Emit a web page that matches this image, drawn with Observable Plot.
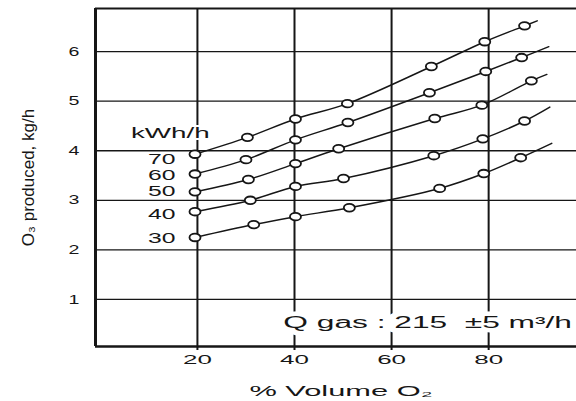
<!DOCTYPE html>
<html>
<head>
<meta charset="utf-8">
<script src="https://cdn.jsdelivr.net/npm/d3@7"></script>
<script src="https://cdn.jsdelivr.net/npm/@observablehq/plot@0.6"></script>
<style>
  html, body { margin: 0; padding: 0; background: #fff; }
</style>
</head>
<body>
<script>
// ---- data ----
const powers = [70, 60, 50, 40, 30];            // kWh/h series
const x70 = [19.5, 30.3, 40.2, 50.9, 68.2, 79.2, 87.4];
const y70 = [3.93, 4.27, 4.64, 4.95, 5.70, 6.20, 6.52];
const x60 = [19.5, 30.0, 40.2, 51.0, 67.8, 79.4, 86.8];
const y60 = [3.53, 3.82, 4.22, 4.57, 5.17, 5.60, 5.88];
const x50 = [19.5, 30.5, 40.2, 49.1, 68.9, 78.6, 88.8];
const y50 = [3.17, 3.42, 3.74, 4.04, 4.65, 4.92, 5.41];
const x40 = [19.5, 30.9, 40.2, 50.1, 68.7, 78.8, 87.4];
const y40 = [2.77, 3.00, 3.28, 3.44, 3.90, 4.24, 4.60];
const x30 = [19.5, 31.6, 40.2, 51.3, 69.9, 79.0, 86.6];
const y30 = [2.25, 2.51, 2.67, 2.85, 3.24, 3.54, 3.86];
// where each drawn curve ends, beyond its last measured point
const tailX = [90.0, 92.4, 92.0, 92.6, 93.0];
const tailY = [6.62, 6.10, 5.54, 4.88, 4.15];
// series label heights (at the left of the curves)
const labelY = [3.83, 3.50, 3.18, 2.72, 2.23];
const labelX = 15.5;
const unitLabel = "kWh/h";
const unitLabelPos = [14.4, 4.35];
const xTicks = [20, 40, 60, 80];
const yTicks = [1, 2, 3, 4, 5, 6];
const xDomain = [-1, 98.1];
const yDomain = [0.05, 6.87];
const xTitle = "% Volume O\u2082";
const yTitle = "O\u2083 produced, kg/h";
const note = "Q gas : 215 \u00a0\u00b15 m\u00b3/h";
const notePos = [37.7, 0.52];

// ---- build tables ----
const xs = [x70, x60, x50, x40, x30];
const ys = [y70, y60, y50, y40, y30];
const points = [];
const curves = [];
powers.forEach((p, i) => {
  xs[i].forEach((x, j) => {
    points.push({power: p, x, y: ys[i][j]});
    curves.push({power: p, x, y: ys[i][j]});
  });
  curves.push({power: p, x: tailX[i], y: tailY[i]});
});
const labels = powers.map((p, i) => ({text: String(p), x: labelX, y: labelY[i]}));

// open ellipse symbol (the scan is stretched horizontally)
const ellipse = {
  draw(context, size) {
    const r = Math.sqrt(size / Math.PI);
    const rx = r * 1.38, ry = r * 0.95, k = 0.5523;
    context.moveTo(rx, 0);
    context.bezierCurveTo(rx, ry * k, rx * k, ry, 0, ry);
    context.bezierCurveTo(-rx * k, ry, -rx, ry * k, -rx, 0);
    context.bezierCurveTo(-rx, -ry * k, -rx * k, -ry, 0, -ry);
    context.bezierCurveTo(rx * k, -ry, rx, -ry * k, rx, 0);
    context.closePath();
  }
};

const ink = "#161616";
const chart = Plot.plot({
  width: 576,
  height: 401,
  marginLeft: 95,
  marginRight: 0,
  marginTop: 8,
  marginBottom: 55,
  x: {domain: xDomain},
  y: {domain: yDomain},
  style: {fontFamily: "'Liberation Sans', Arial, sans-serif", color: ink, background: "#fff"},
  marks: [
    Plot.gridY(yTicks, {stroke: ink, strokeOpacity: 1, strokeWidth: 1.3}),
    Plot.gridX(xTicks, {stroke: ink, strokeOpacity: 1, strokeWidth: 2}),
    Plot.ruleX([xDomain[0]], {stroke: ink, strokeWidth: 3}),
    Plot.ruleY([yDomain[0]], {stroke: ink, strokeWidth: 2.5}),
    Plot.ruleY([yDomain[1]], {stroke: ink, strokeWidth: 2}),
    Plot.axisX(xTicks, {tickSize: 4, tickPadding: 4, fontSize: 13, strokeWidth: 2, label: null, tickFormat: d => String(d)}),
    Plot.axisY(yTicks, {tickSize: 0, tickPadding: 16, fontSize: 13, label: null, tickFormat: d => String(d)}),
    Plot.text([note], {x: notePos[0], y: notePos[1], textAnchor: "start", fontSize: 16,
      fill: ink, stroke: "#fff", strokeWidth: 9, ariaDescription: "note"}),
    Plot.line(curves, {x: "x", y: "y", z: "power", curve: "catmull-rom", stroke: ink, strokeWidth: 1.5}),
    Plot.dot(points, {x: "x", y: "y", symbol: ellipse, r: 4, fill: "#fff", stroke: ink, strokeWidth: 1.8}),
    Plot.text(labels, {x: "x", y: "y", text: "text", textAnchor: "end", fontSize: 15,
      fill: ink, stroke: "#fff", strokeWidth: 3, ariaDescription: "series"}),
    Plot.text([unitLabel], {x: unitLabelPos[0], y: unitLabelPos[1], fontSize: 15,
      fill: ink, stroke: "#fff", strokeWidth: 4, ariaDescription: "unit"}),
    Plot.text([xTitle], {frameAnchor: "bottom", textAnchor: "middle", lineAnchor: "middle",
      dy: 45, dx: 5, fontSize: 14, fill: ink, ariaDescription: "xtitle"}),
    Plot.text([yTitle], {frameAnchor: "left", textAnchor: "middle", lineAnchor: "middle",
      dx: -67, rotate: -90, fontSize: 17, fill: ink, ariaDescription: "ytitle"})
  ]
});
document.body.appendChild(chart);

// horizontal stretch of the lettering, as in the scanned original
const stretch = {"x-axis tick label": 2.0, "y-axis tick label": 1.5,
  note: 1.98, series: 1.65, unit: 1.85, xtitle: 2.2};
chart.querySelectorAll("text").forEach(t => {
  const g = t.closest("g[aria-label]");
  if (!g) return;
  const key = g.getAttribute("aria-description") || g.getAttribute("aria-label");
  const f = stretch[key];
  if (!f) return;
  const w = t.getComputedTextLength();
  t.setAttribute("textLength", (w * f).toFixed(1));
  t.setAttribute("lengthAdjust", "spacingAndGlyphs");
});
</script>
</body>
</html>
